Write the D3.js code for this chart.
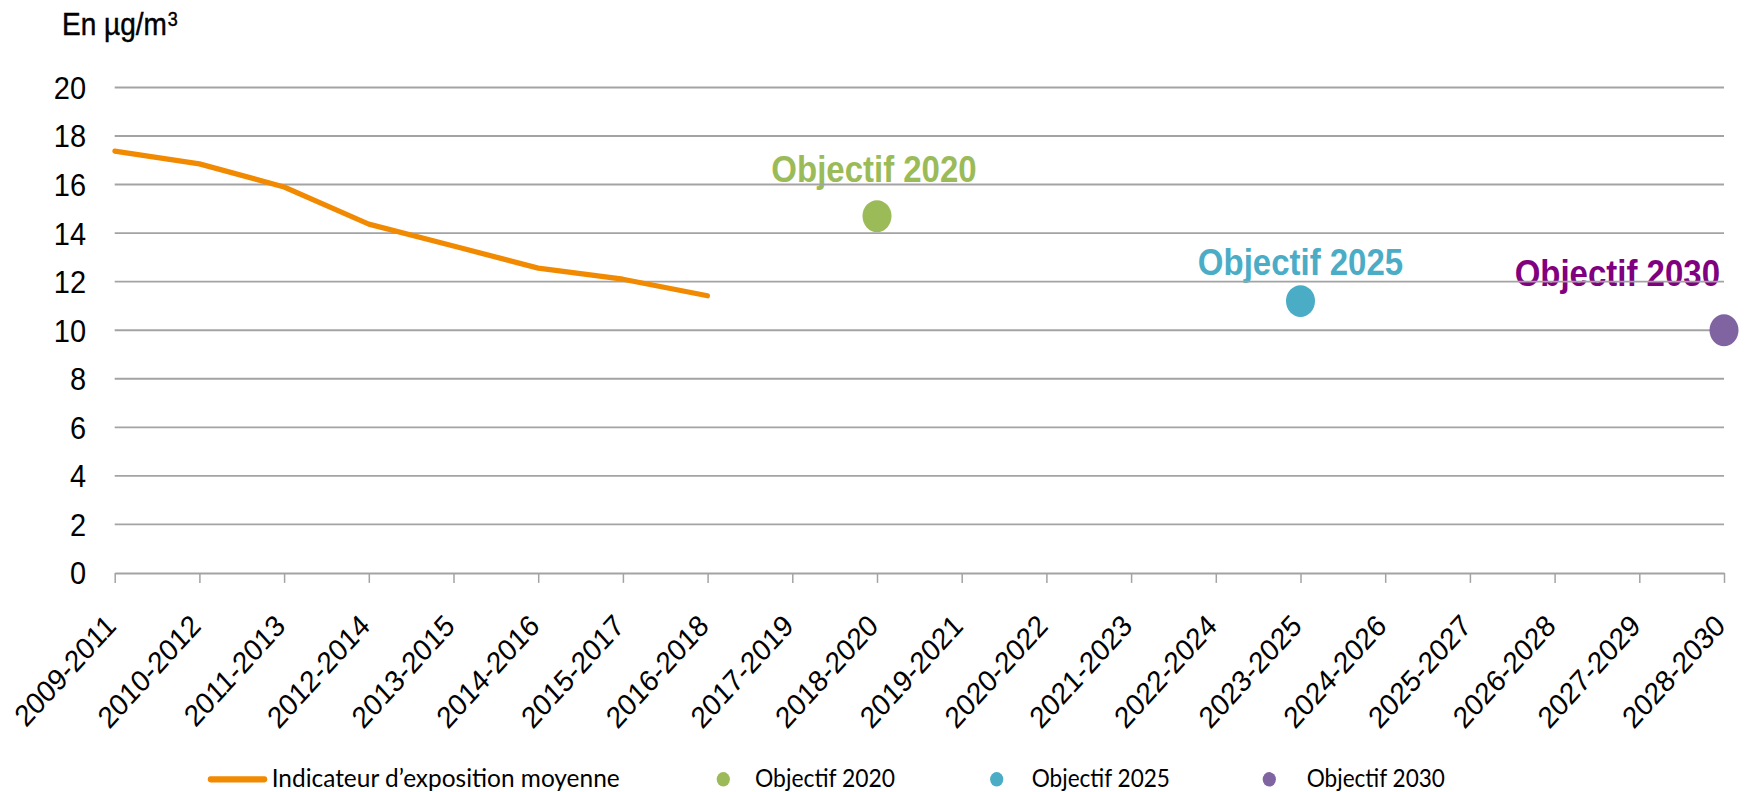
<!DOCTYPE html>
<html>
<head>
<meta charset="utf-8">
<script src="https://cdn.jsdelivr.net/npm/d3@7"></script>
<style>
  html, body { margin: 0; padding: 0; background: #fff; }
  svg { display: block; }
</style>
</head>
<body>
<svg id="chart" width="1746" height="792"></svg>
<script>
// ---------------- DATA ----------------
const categories = ["2009-2011","2010-2012","2011-2013","2012-2014","2013-2015","2014-2016","2015-2017","2016-2018","2017-2019","2018-2020","2019-2021","2020-2022","2021-2023","2022-2024","2023-2025","2024-2026","2025-2027","2026-2028","2027-2029","2028-2030"];
const indicatorCategories = ["2009-2011","2010-2012","2011-2013","2012-2014","2013-2015","2014-2016","2015-2017","2016-2018"];
const indicatorValues = [17.38, 16.85, 15.9, 14.37, 13.47, 12.56, 12.1, 11.42];
const objectiveNames = ["Objectif 2020","Objectif 2025","Objectif 2030"];
const objectiveCategories = ["2018-2020","2023-2025","2028-2030"];
const objectiveValues = [14.7, 11.2, 10];
const yTicks = [0,2,4,6,8,10,12,14,16,18,20];
const lineSeriesName = "Indicateur d\u2019exposition moyenne";
const unitLabel = "En \u00b5g/m";
const unitSup = "3";

// ---------------- STYLE / LAYOUT ----------------
const STRETCH = 1.1;          // reference is drawn slightly taller than wide
const X0 = 114.7, X1 = 1724;
const Y0 = 520.9, Y20 = 79.5;
const orange = "#F18A00";
const dotColors = ["#9BBB59", "#4BACC6", "#8064A2"];
const labelColors = ["#9BBB59", "#4BACC6", "#800080"];
const gridColor = "#A3A3A3";
const labelLayout = [
  {dx: -3, dy: -31, anchor: "middle"},
  {dx: 0,  dy: -24, anchor: "middle"},
  {dx: -4, dy: -40, anchor: "end"}
];
const legendLayout = {
  y: 708.5, textY: 715.2,
  line: [210.5, 264.5], lineText: 271.7, lineTextLen: 348,
  dots: [723.3, 996.7, 1269.3], dotTexts: [755, 1031.7, 1306.7], dotTextLens: [140, 138.3, 138.3]
};
const sans = "'Liberation Sans', Arial, Helvetica, sans-serif";
const legendFont = "Lato, 'Open Sans', sans-serif";

const svg = d3.select("#chart");
const root = svg.append("g").attr("transform", `scale(1, ${STRETCH})`);

const x = d3.scalePoint().domain(categories).range([X0, X1]);
const y = d3.scaleLinear().domain([0, 20]).range([Y0, Y20]);

// unit label
const unit = root.append("text")
  .attr("x", 62).attr("y", 31.8)
  .attr("font-family", sans).attr("font-size", 28).attr("fill", "#000")
  .attr("stroke", "#000").attr("stroke-width", 0.4);
unit.append("tspan").text(unitLabel);
unit.append("tspan").attr("font-size", 18).attr("dy", -8.5).attr("dx", 1).text(unitSup);

// objective labels (drawn under gridlines as in reference)
root.append("g").selectAll("text")
  .data(objectiveNames)
  .join("text")
  .attr("x", (d, i) => x(objectiveCategories[i]) + labelLayout[i].dx)
  .attr("y", (d, i) => y(objectiveValues[i]) + labelLayout[i].dy)
  .attr("text-anchor", (d, i) => labelLayout[i].anchor)
  .attr("font-family", sans).attr("font-weight", "bold").attr("font-size", 33)
  .attr("fill", (d, i) => labelColors[i])
  .text(d => d);

// gridlines
root.append("g").selectAll("line")
  .data(yTicks.filter(t => t > 0))
  .join("line")
  .attr("x1", X0).attr("x2", X1)
  .attr("y1", d => y(d)).attr("y2", d => y(d))
  .attr("stroke", gridColor).attr("stroke-width", 1.7);

// y axis labels
const yAxis = root.append("g")
  .attr("transform", `translate(${X0},0)`)
  .call(d3.axisLeft(y).tickValues(yTicks).tickSize(0).tickPadding(28.7).tickFormat(d3.format("d")));
yAxis.select(".domain").remove();
yAxis.selectAll("text").attr("font-family", sans).attr("font-size", 29).attr("fill", "#000").attr("dy", "0.34em");

// x axis
const xAxis = root.append("g")
  .attr("transform", `translate(0,${Y0})`)
  .call(d3.axisBottom(x).tickSize(9).tickSizeOuter(0));
xAxis.select(".domain").attr("stroke", gridColor).attr("stroke-width", 1.7);
xAxis.selectAll(".tick line").attr("stroke", gridColor).attr("stroke-width", 1.5);
xAxis.selectAll(".tick text")
  .attr("x", 2.3).attr("y", 49.7).attr("dy", null)
  .attr("transform", "rotate(-45, 2.3, 49.7)")
  .attr("text-anchor", "end")
  .attr("font-family", sans).attr("font-size", 27.5).attr("fill", "#000");

// indicator line
const line = d3.line()
  .x((d, i) => x(indicatorCategories[i]))
  .y(d => y(d));
root.append("path")
  .datum(indicatorValues)
  .attr("d", line)
  .attr("fill", "none")
  .attr("stroke", orange).attr("stroke-width", 4.8)
  .attr("stroke-linejoin", "round").attr("stroke-linecap", "round");

// objective dots
root.append("g").selectAll("circle")
  .data(objectiveValues)
  .join("circle")
  .attr("cx", (d, i) => x(objectiveCategories[i]))
  .attr("cy", d => y(d))
  .attr("r", 14.5)
  .attr("fill", (d, i) => dotColors[i]);

// legend
const lg = root.append("g");
lg.append("line")
  .attr("x1", legendLayout.line[0]).attr("x2", legendLayout.line[1])
  .attr("y1", legendLayout.y).attr("y2", legendLayout.y)
  .attr("stroke", orange).attr("stroke-width", 5.5).attr("stroke-linecap", "round");
lg.append("text")
  .attr("x", legendLayout.lineText).attr("y", legendLayout.textY)
  .attr("font-family", legendFont).attr("font-size", 23).attr("fill", "#000")
  .attr("textLength", legendLayout.lineTextLen).attr("lengthAdjust", "spacingAndGlyphs")
  .text(lineSeriesName);
lg.selectAll("circle")
  .data(objectiveNames)
  .join("circle")
  .attr("cx", (d, i) => legendLayout.dots[i])
  .attr("cy", legendLayout.y)
  .attr("r", 6.6)
  .attr("fill", (d, i) => dotColors[i]);
lg.selectAll("text.obj")
  .data(objectiveNames)
  .join("text")
  .attr("class", "obj")
  .attr("x", (d, i) => legendLayout.dotTexts[i]).attr("y", legendLayout.textY)
  .attr("font-family", legendFont).attr("font-size", 23).attr("fill", "#000")
  .attr("textLength", (d, i) => legendLayout.dotTextLens[i]).attr("lengthAdjust", "spacingAndGlyphs")
  .text(d => d);
</script>
</body>
</html>
